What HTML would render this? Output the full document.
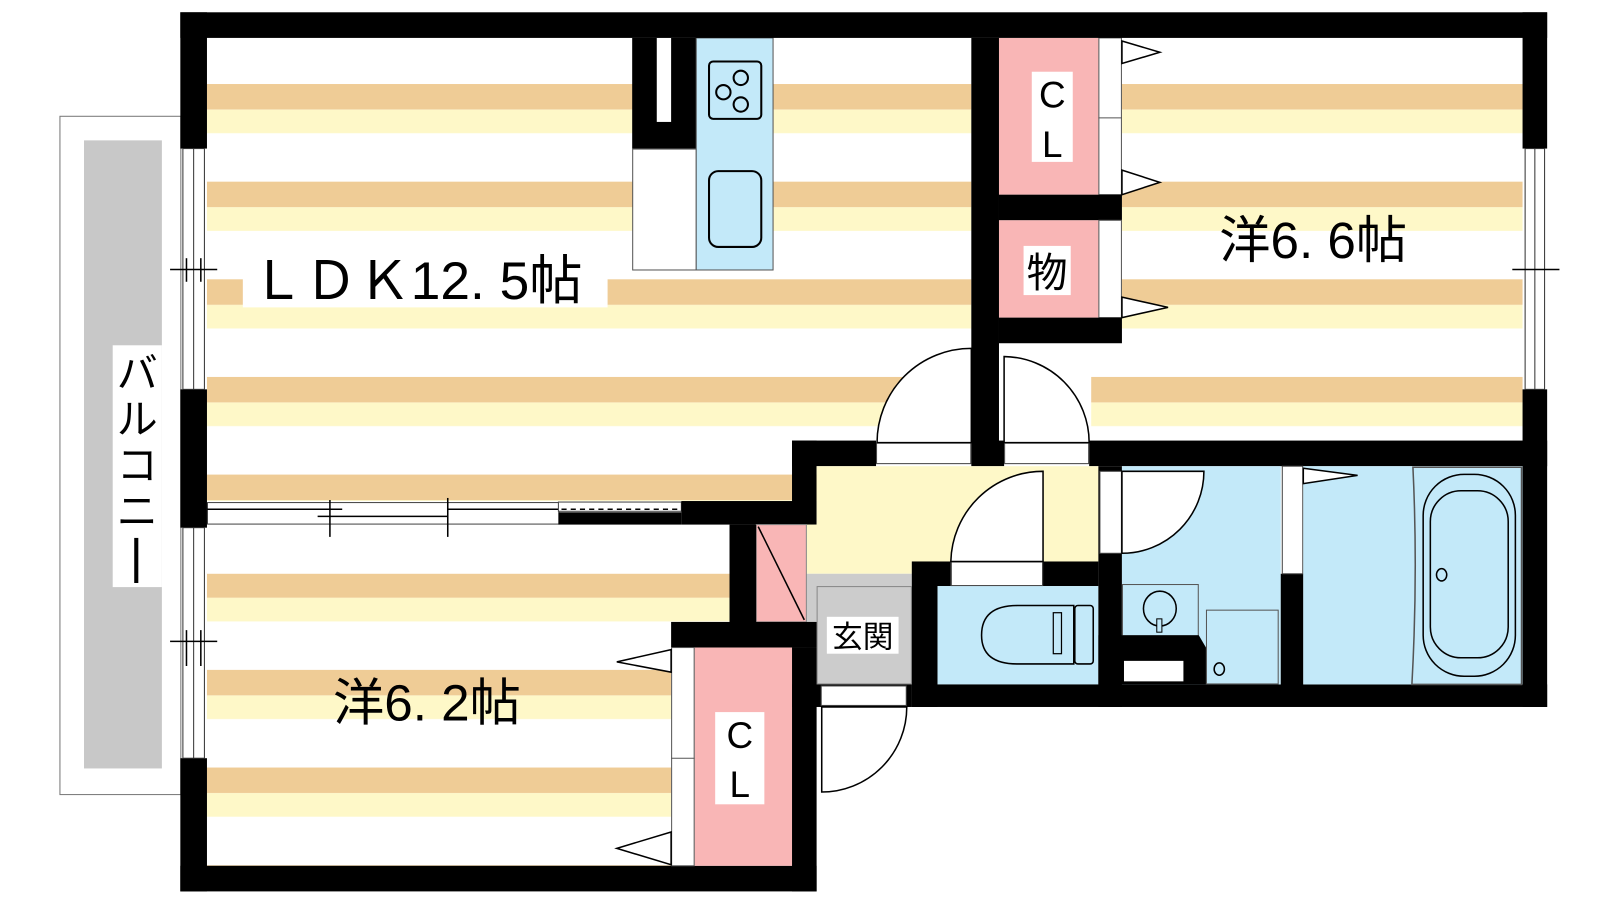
<!DOCTYPE html>
<html><head><meta charset="utf-8"><style>
html,body{margin:0;padding:0;background:#fff;width:1600px;height:900px;overflow:hidden}
text{font-family:"Liberation Sans","Noto Sans CJK JP",sans-serif}
</style></head><body>
<svg width="1600" height="900" viewBox="0 0 1600 900" xmlns="http://www.w3.org/2000/svg">
<defs>
<pattern id="st" x="0" y="82" width="10" height="95.3" patternUnits="userSpaceOnUse">
<rect x="0" y="0" width="10" height="25" fill="#efcc96"/><rect x="0" y="25" width="10" height="23" fill="#fef8c8"/>
</pattern>
</defs>
<rect width="1600" height="900" fill="#fff"/>
<g transform="scale(1.0246)">
<rect x="58.5" y="113.5" width="118" height="662" fill="#fff" stroke="#777" stroke-width="1"/>
<rect x="82" y="137" width="76" height="613" fill="#c8c8c8"/>
<rect x="110" y="337" width="48" height="236" fill="#fff"/>
<text x="134" y="378" font-size="40" text-anchor="middle" >バ</text>
<text x="134" y="423" font-size="40" text-anchor="middle">ル</text>
<text x="134" y="468" font-size="40" text-anchor="middle">コ</text>
<text x="134" y="513" font-size="40" text-anchor="middle">ニ</text>
<rect x="131" y="525" width="4" height="44" fill="#000"/>

<rect x="202" y="37" width="746" height="452" fill="url(#st)"/>
<rect x="1095" y="37" width="391" height="298" fill="url(#st)"/>
<rect x="975" y="335" width="511" height="95" fill="url(#st)"/>
<rect x="975" y="335" width="90" height="95" fill="#fff"/>
<rect x="202" y="512" width="510" height="333" fill="url(#st)"/>
<rect x="202" y="512" width="520" height="48" fill="#fff"/>
<rect x="655" y="607" width="60" height="240" fill="#fff"/>

<rect x="617" y="37" width="63" height="108" fill="#000"/>
<rect x="641" y="37" width="14" height="82" fill="#fff"/>
<rect x="617.5" y="145.5" width="62" height="118" fill="#fff" stroke="#555"/>
<rect x="679.5" y="37" width="75" height="226.5" fill="#c3e9f9" stroke="#555"/>
<rect x="692" y="60" width="51" height="56" rx="4" fill="none" stroke="#000" stroke-width="2"/>
<circle cx="706" cy="90" r="7" fill="none" stroke="#000" stroke-width="2"/>
<circle cx="723" cy="76" r="7" fill="none" stroke="#000" stroke-width="2"/>
<circle cx="723" cy="102" r="7" fill="none" stroke="#000" stroke-width="2"/>
<rect x="692" y="167" width="51" height="74" rx="9" fill="none" stroke="#000" stroke-width="2"/>

<rect x="237" y="245" width="356" height="55" fill="#fff"/>
<text x="245" y="292" font-size="52">ＬＤＫ12. 5帖</text>
<text x="1190" y="252" font-size="50">洋6. 6帖</text>
<text x="325" y="703" font-size="50">洋6. 2帖</text>

<rect x="948" y="37" width="27" height="416" fill="#000"/>
<rect x="975" y="37" width="97" height="153" fill="#f9b6b6"/>
<rect x="1007" y="70" width="40" height="88" fill="#fff"/>
<text x="1027" y="105" font-size="36" text-anchor="middle">C</text>
<text x="1027" y="153" font-size="36" text-anchor="middle">L</text>
<rect x="1072.5" y="37" width="22" height="153" fill="#fff" stroke="#555"/>
<line x1="1072" y1="115" x2="1095" y2="115" stroke="#555"/>
<rect x="975" y="190" width="120" height="25" fill="#000"/>
<rect x="975" y="215" width="97" height="95" fill="#f9b6b6"/>
<rect x="999" y="240" width="46" height="48" fill="#fff"/>
<text x="1022" y="280" font-size="40" text-anchor="middle">物</text>
<rect x="1072.5" y="215" width="22" height="95" fill="#fff" stroke="#555"/>
<rect x="975" y="310" width="120" height="25" fill="#000"/>
<polygon points="1095,40 1132,51 1095,62" fill="#fff" stroke="#000" stroke-width="1.5"/>
<polygon points="1095,166 1132,178 1095,190" fill="#fff" stroke="#000" stroke-width="1.5"/>
<polygon points="1095,290 1140,300 1095,310" fill="#fff" stroke="#000" stroke-width="1.5"/>

<rect x="176" y="12" width="1334" height="25" fill="#000"/>
<rect x="176" y="12" width="26" height="133" fill="#000"/>
<rect x="176" y="380" width="26" height="135" fill="#000"/>
<rect x="176" y="740" width="26" height="130" fill="#000"/>
<rect x="178.5" y="145" width="21" height="235" fill="#fff" stroke="#333"/>
<line x1="189" y1="145" x2="189" y2="380" stroke="#333"/>
<rect x="178.5" y="515" width="21" height="225" fill="#fff" stroke="#333"/>
<line x1="189" y1="515" x2="189" y2="740" stroke="#333"/>
<line x1="166" y1="263" x2="212" y2="263" stroke="#000" stroke-width="1.5"/>
<line x1="182" y1="252" x2="182" y2="275" stroke="#000" stroke-width="1.5"/>
<line x1="196" y1="252" x2="196" y2="275" stroke="#000" stroke-width="1.5"/>
<line x1="166" y1="626" x2="212" y2="626" stroke="#000" stroke-width="1.5"/>
<line x1="182" y1="615" x2="182" y2="650" stroke="#000" stroke-width="1.5"/>
<line x1="196" y1="615" x2="196" y2="650" stroke="#000" stroke-width="1.5"/>
<rect x="1486" y="12" width="24" height="133" fill="#000"/>
<rect x="1486" y="380" width="24" height="310" fill="#000"/>
<rect x="1488.5" y="145" width="19" height="235" fill="#fff" stroke="#333"/>
<line x1="1498" y1="145" x2="1498" y2="380" stroke="#333"/>
<line x1="1476" y1="263" x2="1522" y2="263" stroke="#000" stroke-width="1.5"/>
<rect x="176" y="845" width="621" height="25" fill="#000"/>

<rect x="202.5" y="490.5" width="343" height="21" fill="#fff" stroke="#444"/>
<line x1="202" y1="497" x2="334" y2="497" stroke="#000" stroke-width="1.5"/>
<line x1="310" y1="504" x2="437" y2="504" stroke="#000" stroke-width="1.5"/>
<line x1="437" y1="497" x2="545" y2="497" stroke="#000" stroke-width="1.5"/>
<line x1="322" y1="488" x2="322" y2="524" stroke="#000" stroke-width="1.5"/>
<line x1="437" y1="486" x2="437" y2="524" stroke="#000" stroke-width="1.5"/>
<rect x="545" y="490" width="120" height="9" fill="#fff" stroke="#444"/>
<line x1="548" y1="497" x2="662" y2="497" stroke="#000" stroke-width="1.5" stroke-dasharray="5,4"/>
<rect x="545" y="500" width="120" height="12" fill="#000"/>
<rect x="665" y="489" width="132" height="23" fill="#000"/>
<rect x="773" y="430" width="24" height="82" fill="#000"/>
<rect x="773" y="430" width="82" height="25" fill="#000"/>

<rect x="948" y="430" width="32" height="25" fill="#000"/>
<rect x="1063" y="430" width="447" height="25" fill="#000"/>
<rect x="855.5" y="432.5" width="92" height="20" fill="#fff" stroke="#444"/>
<path d="M948,432 L948,340 A92,92 0 0 0 856,432 Z" fill="#fff" stroke="#000" stroke-width="1.5"/>
<rect x="980.5" y="432.5" width="82" height="20" fill="#fff" stroke="#444"/>
<path d="M980,432 L980,348 A84,84 0 0 1 1063,432 Z" fill="#fff" stroke="#000" stroke-width="1.5"/>

<rect x="797" y="455" width="275" height="93" fill="#fef8c8"/>
<rect x="787" y="512" width="103" height="48" fill="#fef8c8"/>
<rect x="787" y="560" width="103" height="108" fill="#cccccc"/>
<rect x="797.5" y="572.5" width="92" height="95" fill="#cccccc" stroke="#888"/>
<rect x="807" y="602" width="70" height="36" fill="#fff"/>
<text x="842" y="632" font-size="30" text-anchor="middle">玄関</text>
<rect x="738" y="512" width="49" height="95" fill="#f9b6b6" stroke="#888"/>
<line x1="740" y1="514" x2="785" y2="605" stroke="#000" stroke-width="1.5"/>
<rect x="712" y="512" width="26" height="120" fill="#000"/>
<rect x="655" y="607" width="142" height="25" fill="#000"/>
<rect x="773" y="632" width="24" height="238" fill="#000"/>
<rect x="773" y="668" width="117" height="22" fill="#000"/>
<rect x="801.5" y="669.5" width="83" height="19" fill="#fff" stroke="#444"/>
<path d="M802,690 L802,773 A83,83 0 0 0 885,690 Z" fill="#fff" stroke="#000" stroke-width="1.5"/>
<rect x="678" y="632" width="95" height="213" fill="#f9b6b6"/>
<rect x="698" y="695" width="48" height="90" fill="#fff"/>
<text x="722" y="730" font-size="36" text-anchor="middle">C</text>
<text x="722" y="778" font-size="36" text-anchor="middle">L</text>
<rect x="655.5" y="632" width="22" height="213" fill="#fff" stroke="#555"/>
<line x1="655" y1="740" x2="678" y2="740" stroke="#555"/>
<polygon points="655,634 602,646 655,656" fill="#fff" stroke="#000" stroke-width="1.5"/>
<polygon points="655,812 602,828 655,844" fill="#fff" stroke="#000" stroke-width="1.5"/>

<rect x="890" y="548" width="25" height="142" fill="#000"/>
<rect x="890" y="548" width="38" height="24" fill="#000"/>
<rect x="1018" y="548" width="54" height="24" fill="#000"/>
<rect x="915" y="572" width="157" height="96" fill="#c3e9f9"/>
<rect x="928.5" y="548.5" width="89" height="23" fill="#fff" stroke="#444"/>
<path d="M1018,548 L1018,460 A90,90 0 0 0 928,548 Z" fill="#fff" stroke="#000" stroke-width="1.5"/>
<path d="M1048,591 L993,591 Q958,591 958,620 Q958,648 993,648 L1048,648 Z" fill="none" stroke="#000" stroke-width="1.5"/>
<rect x="1028" y="598" width="8" height="40" fill="none" stroke="#000" stroke-width="1.2"/>
<rect x="1049" y="591" width="18" height="57" rx="3" fill="none" stroke="#000" stroke-width="1.5"/>
<rect x="890" y="668" width="620" height="22" fill="#000"/>

<rect x="1072" y="455" width="23" height="235" fill="#000"/>
<rect x="1095" y="455" width="155" height="213" fill="#c3e9f9"/>
<rect x="1073.5" y="460" width="21" height="80" fill="#fff" stroke="#444"/>
<path d="M1095,460 L1175,460 A80,80 0 0 1 1095,540 Z" fill="#fff" stroke="#000" stroke-width="1.5"/>
<rect x="1095.5" y="570.5" width="74" height="50" fill="#c3e9f9" stroke="#555"/>
<ellipse cx="1132" cy="594" rx="16" ry="17" fill="none" stroke="#000" stroke-width="1.5"/>
<rect x="1129" y="604" width="5" height="13" fill="#c3e9f9" stroke="#000"/>
<polygon points="1072,620 1170,620 1177,632 1177,668 1072,668" fill="#000"/>
<rect x="1097" y="645" width="58" height="20" fill="#fff"/>
<rect x="1177.5" y="595.5" width="70" height="72" fill="#c3e9f9" stroke="#555"/>
<ellipse cx="1190" cy="653" rx="5" ry="6" fill="none" stroke="#000" stroke-width="1.5"/>
<rect x="1250" y="560" width="22" height="110" fill="#000"/>
<rect x="1251.5" y="455" width="20" height="105" fill="#fff" stroke="#444"/>
<rect x="1272" y="455" width="214" height="213" fill="#c3e9f9"/>
<polygon points="1272,457 1325,464 1272,472" fill="#fff" stroke="#000" stroke-width="1.5"/>
<path d="M1379,456 L1485,456 L1485,668 L1378,668 Q1384,560 1379,456 Z" fill="#c3e9f9" stroke="#555" stroke-width="1.5"/>
<rect x="1389" y="463" width="90" height="197" rx="40" fill="none" stroke="#000" stroke-width="1.5"/>
<rect x="1396" y="479" width="76" height="163" rx="30" fill="none" stroke="#000" stroke-width="1.5"/>
<ellipse cx="1407" cy="561" rx="5" ry="6" fill="none" stroke="#000" stroke-width="1.5"/>
</g>
</svg>
</body></html>
